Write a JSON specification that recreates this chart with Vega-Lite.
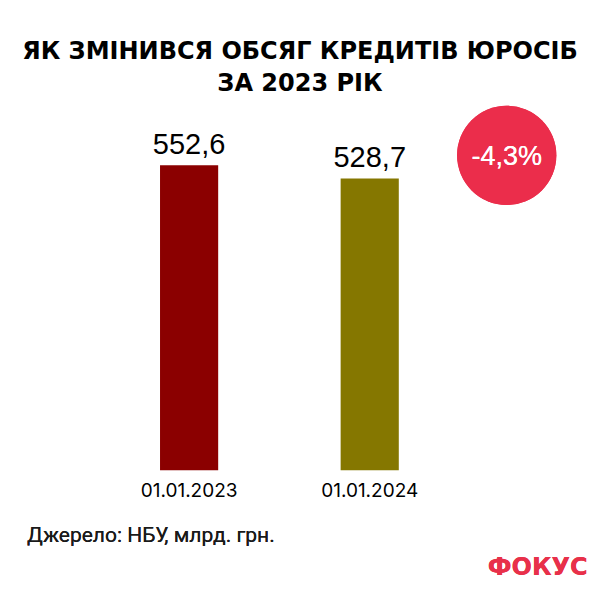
{
  "$schema": "https://vega.github.io/schema/vega-lite/v6.json",
  "width": 600,
  "height": 600,
  "autosize": {"type": "fit", "contains": "padding"},
  "padding": {"top": 40, "left": 0, "right": 0, "bottom": 0},
  "background": "white",
  "title": {
    "text": ["ЯК ЗМІНИВСЯ ОБСЯГ КРЕДИТІВ ЮРОСІБ", "ЗА 2023 РІК"],
    "font": "DejaVu Sans",
    "fontSize": 24,
    "fontWeight": "bold",
    "color": "#000000",
    "lineHeight": 32,
    "anchor": "middle",
    "frame": "group",
    "offset": 4
  },
  "config": {"view": {"stroke": null}},
  "data": {
    "values": [
      {"date": "01.01.2023", "value": 552.6, "label": "552,6"},
      {"date": "01.01.2024", "value": 528.7, "label": "528,7"}
    ]
  },
  "layer": [
    {
      "mark": {"type": "bar"},
      "encoding": {
        "x": {
          "field": "date",
          "type": "nominal",
          "scale": {"domain": ["01.01.2023", "01.01.2024"], "paddingInner": 0.678, "paddingOuter": 1.063, "align": 0.443},
          "axis": null
        },
        "y": {"field": "value", "type": "quantitative", "scale": {"domain": [-235.0, 670.9], "nice": false, "zero": false}, "axis": null},
        "y2": {"datum": 0},
        "color": {"field": "date", "type": "nominal", "scale": {"domain": ["01.01.2023", "01.01.2024"], "range": ["#8b0000", "#857700"]}, "legend": null}
      }
    },
    {
      "mark": {"type": "text", "font": "Liberation Sans", "fontSize": 29, "baseline": "alphabetic", "dy": -11, "color": "#000000"},
      "encoding": {
        "x": {"field": "date", "type": "nominal"},
        "y": {"field": "value", "type": "quantitative"},
        "text": {"field": "label"}
      }
    },
    {
      "mark": {"type": "text", "font": "Inter", "fontSize": 19, "baseline": "top", "dy": 12, "color": "#000000"},
      "encoding": {
        "x": {"field": "date", "type": "nominal"},
        "y": {"datum": 0},
        "text": {"field": "date"}
      }
    },
    {
      "mark": {"type": "point", "shape": "circle", "filled": true, "opacity": 1, "size": 9852, "color": "#eb2d4b", "xOffset": 137},
      "encoding": {
        "x": {"datum": "01.01.2024"},
        "y": {"datum": 570.7}
      }
    },
    {
      "mark": {"type": "text", "font": "Liberation Sans", "fontSize": 27, "baseline": "middle", "color": "#ffffff", "dx": 137},
      "encoding": {
        "x": {"datum": "01.01.2024"},
        "y": {"datum": 567},
        "text": {"value": "-4,3%"}
      }
    },
    {
      "mark": {"type": "text", "font": "Roboto", "fontSize": 21, "fontWeight": "normal", "baseline": "middle", "align": "left", "color": "#1a1a1a", "dx": -162},
      "encoding": {
        "x": {"datum": "01.01.2023"},
        "y": {"datum": -118.5},
        "text": {"value": "Джерело: НБУ, млрд. грн."}
      }
    },
    {
      "mark": {"type": "text", "font": "DejaVu Sans", "fontSize": 24, "fontWeight": "bold", "baseline": "middle", "align": "right", "color": "#e8304a", "dx": 218},
      "encoding": {
        "x": {"datum": "01.01.2024"},
        "y": {"datum": -177.7},
        "text": {"value": "ФОКУС"}
      }
    }
  ]
}
